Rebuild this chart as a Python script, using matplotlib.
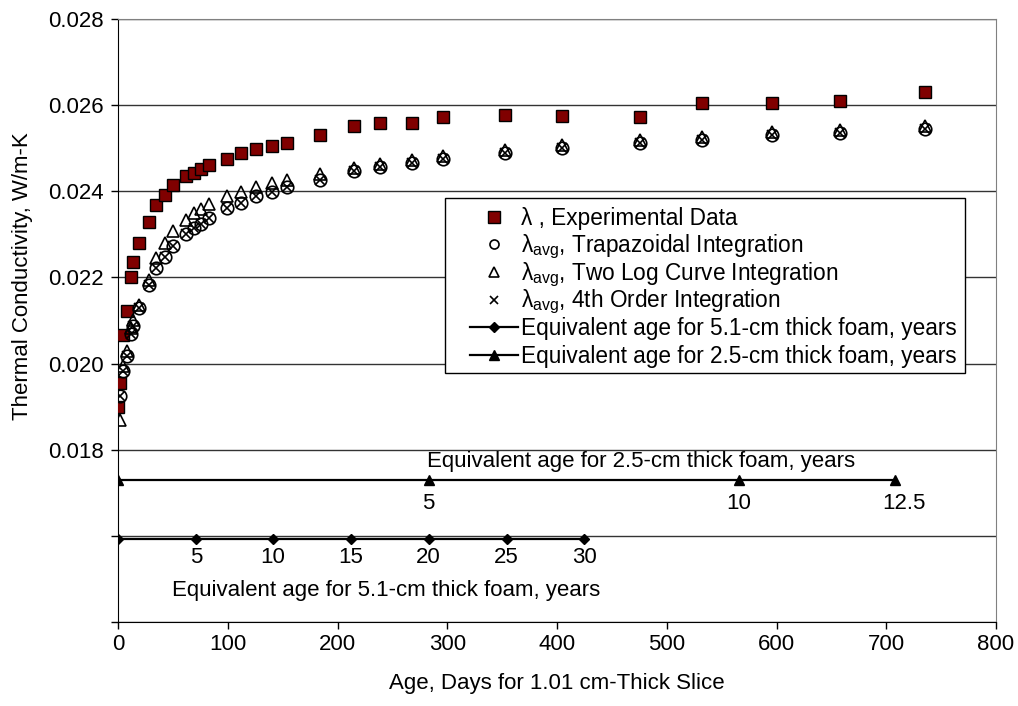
import matplotlib
matplotlib.use("Agg")
import matplotlib.pyplot as plt
from matplotlib.lines import Line2D
from matplotlib.patches import Rectangle

# measured ages (days) for the 1.01 cm slice
days = [0, 2, 5, 8, 12, 14, 19, 28, 35, 43, 50, 62, 69, 76, 83, 99, 112, 126,
        140, 154, 184, 215, 239, 268, 296, 353, 405, 476, 532, 596, 658, 735]
exp_vals = [0.01899, 0.01955, 0.02067, 0.02122, 0.02202, 0.02235, 0.02280, 0.02328,
            0.02367, 0.02392, 0.02415, 0.02436, 0.02442, 0.02451, 0.02461, 0.02476,
            0.02488, 0.02498, 0.02504, 0.02513, 0.02530, 0.02552, 0.02558, 0.02559,
            0.02573, 0.02577, 0.02575, 0.02573, 0.02606, 0.02606, 0.02610, 0.02631]

avg_days = days[1:]
trap_vals = [0.01925, 0.01982, 0.02018, 0.02068, 0.02088, 0.02129, 0.02182, 0.02222,
             0.02247, 0.02272, 0.02300, 0.02314, 0.02325, 0.02338, 0.02361, 0.02373,
             0.02388, 0.02399, 0.02410, 0.02426, 0.02446, 0.02457, 0.02466, 0.02474,
             0.02490, 0.02501, 0.02511, 0.02520, 0.02530, 0.02535, 0.02544]
twolog_vals = [0.01869, 0.01995, 0.02030, 0.02082, 0.02100, 0.02135, 0.02194, 0.02245,
               0.02280, 0.02307, 0.02334, 0.02349, 0.02358, 0.02371, 0.02388, 0.02399,
               0.02411, 0.02419, 0.02426, 0.02440, 0.02455, 0.02463, 0.02473, 0.02481,
               0.02497, 0.02507, 0.02518, 0.02527, 0.02537, 0.02543, 0.02552]
order4_vals = [0.01925, 0.01982, 0.02018, 0.02068, 0.02088, 0.02129, 0.02182, 0.02222,
               0.02247, 0.02272, 0.02300, 0.02314, 0.02325, 0.02338, 0.02361, 0.02373,
               0.02388, 0.02399, 0.02410, 0.02426, 0.02446, 0.02457, 0.02466, 0.02474,
               0.02490, 0.02501, 0.02511, 0.02520, 0.02530, 0.02535, 0.02544]

# equivalent-age scales drawn inside the plot
eq51_days = [0, 71, 141, 212, 283, 354, 425]
eq51_labels = ['', '5', '10', '15', '20', '25', '30']
eq51_level = 0.01592
eq25_days = [0, 283, 566, 708]
eq25_labels = ['', '5', '10', '12.5']
eq25_level = 0.01730

legend_labels = ['λ , Experimental Data',
                 'λ$_{avg}$, Trapazoidal Integration',
                 'λ$_{avg}$, Two Log Curve Integration',
                 'λ$_{avg}$, 4th Order Integration',
                 'Equivalent age for 5.1-cm thick foam, years',
                 'Equivalent age for 2.5-cm thick foam, years']

plt.rcParams['font.family'] = ['Liberation Sans', 'DejaVu Sans']
plt.rcParams['mathtext.default'] = 'regular'
FS = 16
W, H = 1018, 706

fig = plt.figure(figsize=(W/100, H/100), dpi=100)
ax = fig.add_axes([118/W, 1 - 622/H, 878/W, 603/H])

ax.set_xlim(0, 800)
ax.set_ylim(0.014, 0.028)
ax.set_xticks(range(0, 801, 100))
yt = [0.014 + 0.002*i for i in range(8)]
ax.set_yticks(yt)
ax.set_yticklabels(['', ''] + ['%.3f' % v for v in yt[2:]])
ax.tick_params(labelsize=FS, direction='out', length=5, width=1)
ax.tick_params(axis='y', pad=5)
ax.tick_params(axis='x', pad=4)
ax.yaxis.grid(True, color='#333333', lw=1)
ax.set_axisbelow(True)
for s in ['top', 'right']:
    ax.spines[s].set_color('#808080')

ax.plot(days, exp_vals, ls='none', marker='s', ms=8.5, mfc='#800000', mec='black', mew=1, zorder=3)
ax.plot(avg_days, trap_vals, ls='none', marker='o', ms=9, mfc='none', mec='black', mew=1.2, zorder=3)
ax.plot(avg_days, twolog_vals, ls='none', marker='^', ms=9, mfc='none', mec='black', mew=1.2, zorder=3)
ax.plot(avg_days, order4_vals, ls='none', marker='x', ms=6.5, mec='black', mew=1.2, zorder=3)

ax.plot(eq51_days, [eq51_level]*len(eq51_days), color='black', lw=1.6, marker='D', ms=5, zorder=3)
ax.plot(eq25_days, [eq25_level]*len(eq25_days), color='black', lw=1.6, marker='^', ms=7, zorder=3)
for d, lab in zip(eq51_days, eq51_labels):
    ax.text(d, 0.01550, lab, ha='center', va='center', fontsize=FS)
for d, lab in zip(eq25_days, eq25_labels):
    ax.text(d + (8 if lab == '12.5' else 0), 0.01675, lab, ha='center', va='center', fontsize=FS)
ax.text(282, 0.01772, 'Equivalent age for 2.5-cm thick foam, years', ha='left', va='center', fontsize=FS)
ax.text(49, 0.01473, 'Equivalent age for 5.1-cm thick foam, years', ha='left', va='center', fontsize=FS)

ax.set_ylabel('Thermal Conductivity, W/m-K', fontsize=FS)
ax.yaxis.set_label_coords(-0.0966, 0.574)
fig.text(557/W, 1 - 683/H, 'Age, Days for 1.01 cm-Thick Slice', ha='center', va='center', fontsize=FS)

# legend drawn by hand (Excel-style rows with even spacing)
box = Rectangle((445/W, 1 - 373/H), (965 - 445)/W, (373 - 198)/H,
                transform=fig.transFigure, facecolor='white', edgecolor='black',
                lw=1, zorder=4.5, clip_on=False)
ax.add_patch(box)

handle_styles = [
    dict(ls='none', marker='s', ms=8, mfc='#800000', mec='black'),
    dict(ls='none', marker='o', ms=6.5, mfc='none', mec='black', mew=1.2),
    dict(ls='none', marker='^', ms=6.5, mfc='none', mec='black', mew=1.2),
    dict(ls='none', marker='x', ms=6, mec='black', mew=1.2),
    dict(color='black', lw=1.6, marker='D', ms=5),
    dict(color='black', lw=1.6, marker='^', ms=7),
]
for i, (lab, st) in enumerate(zip(legend_labels, handle_styles)):
    yc = 1 - (217 + 27.5*i)/H
    if st.get('ls') == 'none':
        ln = Line2D([494/W], [yc], transform=fig.transFigure, zorder=5, **st)
        fig.add_artist(ln)
    else:
        ln = Line2D([470/W, 518/W], [yc, yc], transform=fig.transFigure, zorder=5,
                    markevery=[], **st)
        fig.add_artist(ln)
        fig.add_artist(Line2D([494/W], [yc], transform=fig.transFigure, zorder=5,
                              ls='none', marker=st['marker'], ms=st['ms'], color='black'))
    fig.text(521/W, yc - 8/H, lab, ha='left', va='baseline', fontsize=16.3, zorder=5)

fig.savefig('out.png', dpi=100)
